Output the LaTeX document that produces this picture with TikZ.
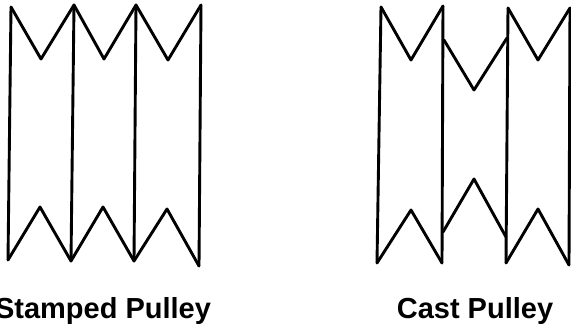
\documentclass[tikz,border=0pt]{standalone}
\usepackage{fontspec}
\setmainfont{Liberation Sans}
\begin{document}
\begin{tikzpicture}[x=1pt,y=-1pt]
\tikzstyle{every path}=[line width=2.9pt,line join=round,line cap=round];
\tikzstyle{caption}=[anchor=base,font=\fontsize{29}{31}\selectfont\bfseries,inner sep=0pt];
\useasboundingbox (0,0) rectangle (571,324);
\draw (11,7) -- (41,59) -- (74,5) -- (104,59) -- (136,5) -- (168,60) -- (201,5);
\draw (8,260) -- (40,207) -- (71,261) -- (103,207) -- (134,261) -- (167,209) -- (199,266);
\draw (11,7) -- (8,260);
\draw (74,5) -- (71,261);
\draw (136,5) -- (134,261);
\draw (201,5) -- (199,266);
\draw (381,7) -- (411,60) -- (443,6);
\draw (444,40) -- (474,90) -- (507,38);
\draw (508,8) -- (538,60) -- (570,8);
\draw (377,263) -- (411,210) -- (442,263);
\draw (443,232) -- (474,179) -- (506,237);
\draw (506,263) -- (538,209) -- (569,265);
\draw (381,7) -- (377,263);
\draw (443,6) -- (442,263);
\draw (508,8) -- (506,263);
\draw (570,8) -- (569,265);
\node (SP) [caption] at (103,318) {Stamped Pulley};
\node (CP) [caption] at (475,318) {Cast Pulley};
\end{tikzpicture}
\end{document}
